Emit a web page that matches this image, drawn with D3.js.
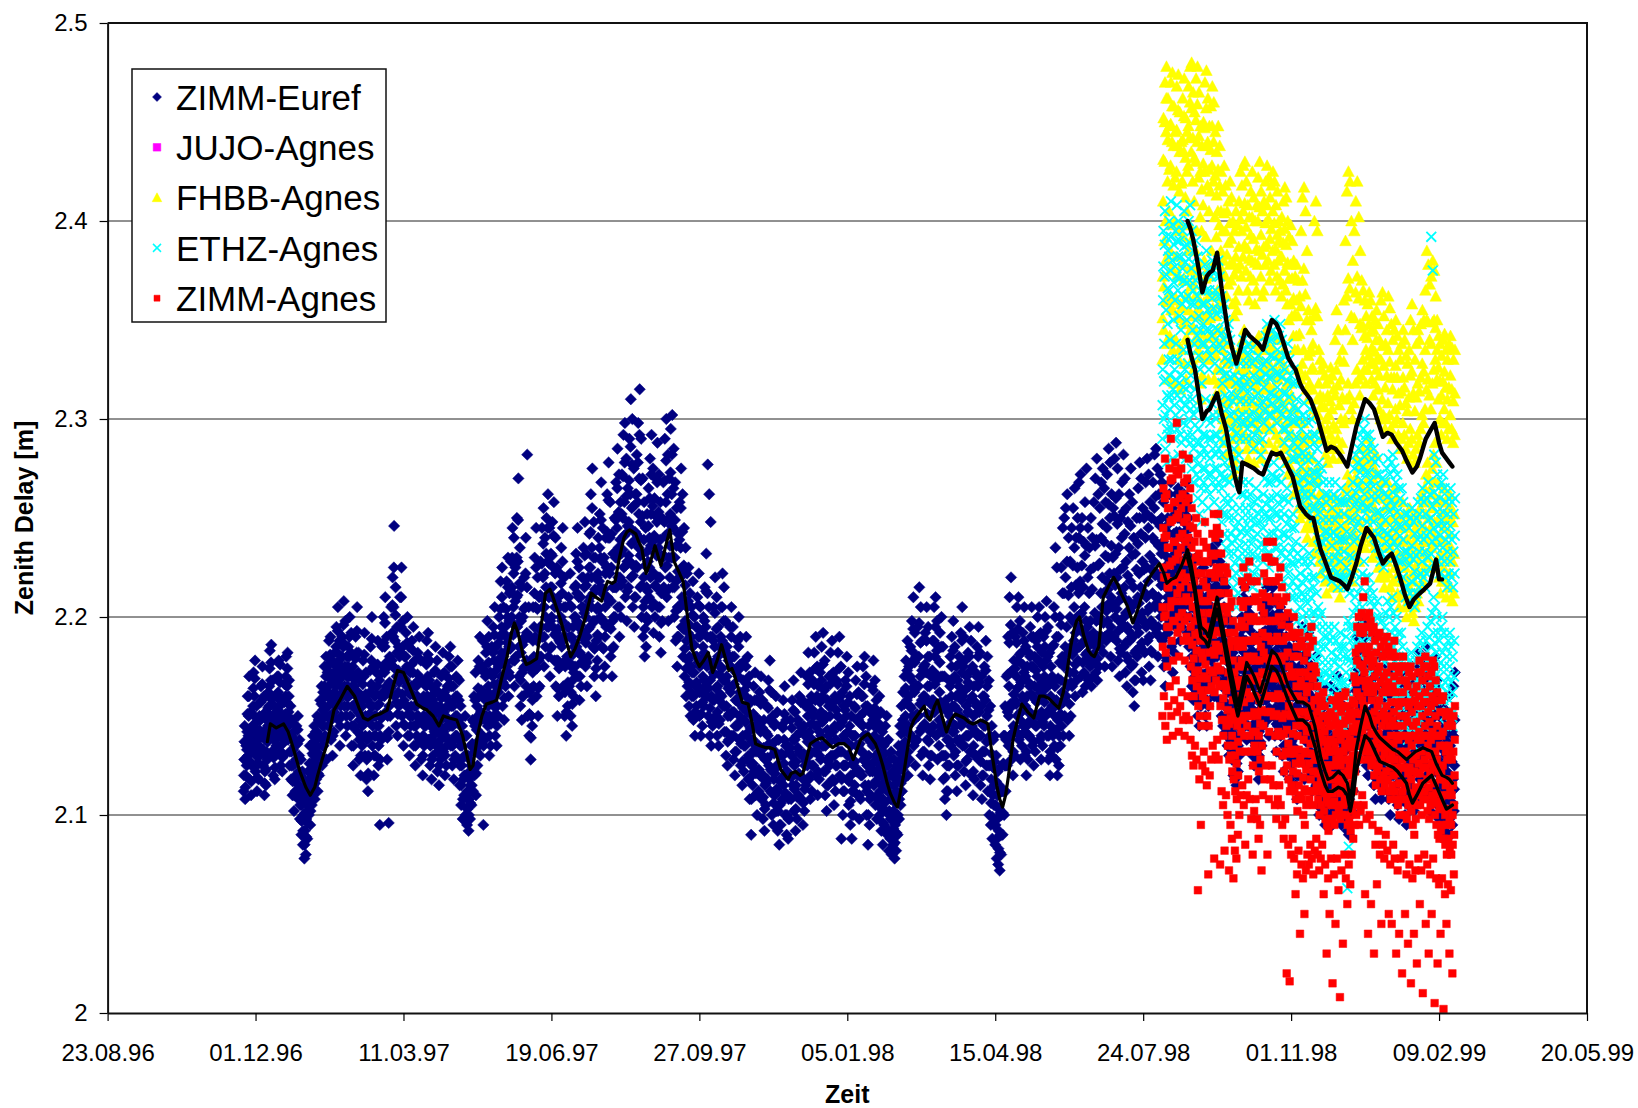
<!DOCTYPE html>
<html><head><meta charset="utf-8">
<script src="https://cdn.jsdelivr.net/npm/d3@7"></script>
<style>body{margin:0;background:#fff}text{font-family:"Liberation Sans",Arial,sans-serif}</style>
</head><body><svg id="chart" width="1638" height="1108"></svg>
<script>
// ---------- DATA ----------
const xTickLabels = ["23.08.96","01.12.96","11.03.97","19.06.97","27.09.97","05.01.98","15.04.98","24.07.98","01.11.98","09.02.99","20.05.99"];
const yTickValues = [2, 2.1, 2.2, 2.3, 2.4, 2.5];
const seriesNames = ["ZIMM-Euref","JUJO-Agnes","FHBB-Agnes","ETHZ-Agnes","ZIMM-Agnes"];
const seriesColors = ["#000080","#FF00FF","#FFFF00","#00FFFF","#FF0000"];
const dayZero = "23.08.96"; // day numbers count from this date
// Values: zenith delay in mm above 2 m (value = 2 + mm/1000)

// ZIMM-Euref, days 92..910: 3 samples per day (00,08,16 h) + 2 more (04,12 h)
const eurefStartDay = 92;
const eurefMM = [
112,128,145,108,120,135,125,142,160,130,150,170,118,136,152,110,125,140,135,155,172,140,160,178,122,138,155,112,126,142,
118,135,150,130,148,165,140,158,175,125,142,160,110,122,138,115,132,148,128,145,162,145,165,183,150,168,186,132,150,168,
120,138,155,118,130,146,135,152,170,145,162,178,140,158,176,125,140,156,122,136,150,130,148,166,142,160,180,150,165,182,
138,152,168,125,140,155,118,132,148,110,125,142,102,118,135,112,128,145,120,136,150,108,122,138,98,112,128,90,105,122,
85,100,118,78,92,110,80,98,115,88,105,122,100,118,135,95,110,126,105,122,140,115,130,145,108,125,142,118,135,150,
112,130,148,120,140,158,130,148,165,125,145,162,135,155,175,140,160,180,128,150,172,145,165,188,150,172,190,138,158,178,
130,150,168,142,162,182,155,175,195,160,182,205,148,168,188,135,155,175,150,170,190,162,185,208,155,175,198,140,160,180,
145,165,185,160,180,200,150,172,192,135,155,175,125,145,165,145,168,190,160,182,205,142,162,182,128,148,168,120,140,160,
135,155,178,148,170,192,130,150,172,118,138,158,112,130,148,140,162,185,155,178,200,135,155,175,120,140,160,130,150,172,
145,165,188,125,145,168,95,140,160,138,160,185,150,175,200,160,185,210,140,165,190,128,150,175,96,155,180,150,178,205,
165,192,220,175,205,246,160,188,215,145,170,195,140,162,185,155,180,210,170,195,225,150,172,198,135,158,180,145,168,192,
155,175,200,140,162,185,130,150,172,145,165,188,150,172,195,135,155,178,125,145,165,140,160,182,150,168,190,138,158,178,
128,148,168,120,140,160,135,155,178,145,165,188,150,170,192,138,158,178,125,145,165,118,138,158,130,150,172,142,162,185,
135,155,178,122,142,162,115,135,155,128,148,170,140,160,182,132,152,172,120,140,160,125,145,165,138,158,180,145,165,185,
135,155,175,125,145,165,118,138,158,130,150,170,140,160,178,128,148,168,115,135,155,105,125,145,98,118,140,110,130,150,
100,120,140,95,112,130,92,108,128,98,115,135,105,125,148,112,135,160,120,145,172,110,132,155,125,150,178,135,160,190,
130,152,175,140,162,188,95,150,172,138,158,182,150,172,198,145,165,190,130,150,172,135,158,185,148,170,195,155,178,205,
140,162,185,135,155,178,150,175,200,165,190,218,170,195,225,155,180,205,148,170,195,165,190,218,175,200,230,160,185,212,
170,198,228,185,215,245,178,205,240,165,192,225,180,210,250,195,228,270,170,200,235,155,182,215,148,172,200,160,188,220,
175,205,240,165,192,282,150,175,205,140,162,190,128,150,178,145,172,205,165,195,230,175,205,245,160,188,220,150,178,210,
165,195,228,180,210,245,190,220,255,175,205,240,185,215,250,195,228,262,180,210,245,170,198,232,185,215,248,195,225,258,
178,205,240,165,192,225,150,178,210,160,188,222,175,200,235,185,212,245,165,190,220,150,175,205,140,165,195,155,180,210,
165,190,222,150,175,205,145,168,195,160,185,215,175,200,232,185,212,245,170,195,225,158,182,210,165,190,220,180,205,235,
190,215,248,175,200,232,165,190,220,180,208,242,195,225,262,205,235,275,185,212,248,170,198,230,160,188,220,178,205,240,
190,218,252,200,230,268,185,212,245,170,198,230,175,205,240,195,225,262,210,240,278,195,222,258,180,208,242,170,198,232,
185,215,250,200,230,268,215,245,285,205,235,272,190,220,258,200,232,272,218,250,292,225,258,298,210,242,280,198,228,265,
215,248,290,228,262,310,220,255,300,205,238,275,195,225,262,210,242,282,225,258,298,235,270,315,215,248,290,200,232,270,
190,220,258,180,208,245,185,215,252,198,228,265,210,240,280,220,252,292,205,238,275,192,222,260,200,232,270,215,248,288,
205,235,272,190,220,258,182,212,250,198,230,268,215,248,290,225,258,300,210,242,282,198,230,270,220,252,295,230,262,302,
215,245,285,200,230,268,188,218,255,175,205,242,190,220,258,205,235,275,195,225,262,180,208,245,170,198,235,160,188,222,
165,192,225,155,180,212,150,175,205,160,185,218,148,172,200,140,165,195,155,180,210,165,190,222,150,175,205,140,162,192,
145,170,200,155,182,215,165,195,232,160,190,277,150,178,262,140,168,248,135,160,190,145,172,205,158,185,220,150,178,210,
140,165,195,135,158,185,148,175,205,160,188,222,155,182,215,142,168,198,130,155,185,125,150,178,138,165,195,150,175,205,
140,165,195,128,152,180,120,145,172,132,158,188,145,170,200,138,162,190,125,148,175,115,140,168,122,148,178,135,160,190,
128,152,180,118,142,170,108,130,158,90,125,150,115,138,165,122,145,172,110,132,158,100,122,148,112,135,162,120,142,170,
108,130,158,98,120,148,92,115,142,105,128,155,118,140,168,125,148,178,112,135,162,100,122,150,95,118,145,110,132,160,
102,125,152,92,112,138,85,105,130,95,118,145,108,130,158,115,138,165,100,122,148,90,110,135,88,108,132,98,120,148,
108,130,158,115,138,168,102,125,152,92,115,140,98,120,148,110,132,160,120,142,172,108,130,158,95,118,145,102,125,155,
115,140,170,125,150,182,118,142,172,108,132,160,112,138,168,125,150,182,132,158,190,120,145,175,110,135,165,118,142,172,
128,152,185,135,160,192,122,148,178,110,135,165,102,128,158,115,140,170,125,150,182,130,155,188,118,142,172,105,130,160,
112,138,168,125,150,182,132,158,190,120,145,175,88,132,162,100,125,155,112,138,168,125,150,180,118,142,172,105,130,160,
95,120,150,88,112,140,100,125,155,115,140,168,122,148,175,110,135,162,98,122,150,108,132,160,120,145,175,128,152,180,
115,140,170,100,125,155,85,115,145,95,122,152,110,138,165,122,148,178,115,140,168,105,130,158,98,122,150,108,132,160,
100,125,152,92,115,142,85,108,135,95,118,145,102,125,150,90,112,138,82,102,128,88,108,132,80,98,122,85,102,128,
78,95,118,82,100,125,90,110,135,98,118,145,105,128,155,112,135,162,118,142,170,125,150,178,132,158,188,120,145,175,
128,155,185,140,168,198,150,178,210,135,162,192,125,150,180,138,165,195,150,180,215,142,170,205,130,158,188,120,145,175,
132,160,192,145,172,205,138,165,195,125,150,180,118,142,170,130,158,188,145,172,205,152,180,210,140,168,198,128,155,185,
135,162,192,145,170,200,130,155,185,118,142,170,108,130,158,100,125,152,112,138,168,125,150,180,135,160,190,142,168,198,
130,155,185,120,145,175,112,138,168,125,150,180,138,162,192,145,172,205,135,160,190,122,148,178,115,140,170,128,152,182,
140,165,195,132,158,188,120,145,175,110,135,165,118,142,172,130,155,185,140,165,195,128,152,182,115,140,170,108,132,160,
120,145,175,132,158,188,125,150,180,112,138,168,100,125,155,95,118,145,88,110,138,95,115,140,85,105,130,78,98,122,
75,92,115,72,90,112,80,100,125,90,112,140,100,125,155,112,138,170,125,152,190,135,165,210,140,172,220,128,155,192,
120,145,178,130,158,190,142,170,205,150,178,210,138,165,198,128,152,182,135,160,192,145,172,205,130,155,185,120,145,175,
128,152,182,140,165,195,148,175,205,135,160,190,125,150,180,132,158,188,145,170,200,150,178,205,138,162,192,128,152,182,
135,160,190,145,170,200,150,178,208,140,165,195,128,152,182,120,145,175,130,155,185,140,168,205,135,165,235,128,158,225,
120,148,190,125,155,200,135,168,225,145,180,245,140,175,250,150,185,255,160,195,262,148,182,240,140,172,228,150,185,245,
165,198,255,172,205,265,160,192,240,168,200,250,178,212,268,185,218,272,170,202,250,162,192,238,172,205,258,165,198,275,
170,195,245,168,190,235,175,198,250,165,188,240,170,192,258,178,202,270,172,198,280,168,190,262,175,200,255,185,212,268,
190,220,275,182,212,265,175,205,258,188,218,272,198,230,285,192,222,278,180,210,262,175,205,255,190,222,280,200,232,288,
188,220,275,178,208,262,170,198,250,182,212,268,195,225,282,185,215,270,172,202,255,165,195,248,178,208,262,188,218,275,
175,205,258,162,190,240,155,182,232,168,198,250,180,210,265,192,222,278,185,215,270,172,202,255,168,198,250,182,212,268,
195,225,280,188,218,272,175,205,258,168,198,250,182,212,268,195,228,282,205,238,285,192,222,275,180,210,262,190,220,272,
200,232,268,188,218,258,175,205,245,165,195,235,178,210,250,192,222,262,198,228,268,185,215,255,172,202,242,182,212,252,
195,225,262,205,235,265,198,228,258,188,218,250,195,225,255,205,235,262,212,240,268,200,230,258,192,222,250,185,215,245,
175,205,238,165,195,228,158,188,220,170,198,230,162,190,222,150,180,212,145,172,205,155,182,215,165,192,225,158,185,218,
150,178,210,145,172,205,155,182,215,168,195,228,178,205,235,170,198,230,160,188,220,172,200,232,180,210,238,168,198,228,
158,188,220,150,180,212,145,172,205,155,182,215,142,170,200,135,162,192,130,155,185,138,165,195,128,152,182,120,145,175,
118,140,170,115,138,165,122,148,178,130,158,190,140,168,200,148,178,210,155,182,215,145,172,205,138,165,195,145,172,202,
152,178,208,140,168,198,130,158,188,125,150,180,135,160,190,128,152,182,118,142,172,125,150,180,135,162,192,145,172,202,
150,178,208,158,185,215,148,175,205,140,168,198,152,180,210,160,188,215,150,178,208,140,168,198,132,160,190,145,172,202,
150,178,205,140,165,195,130,155,185,122,148,178,135,160,190,142,168,198,130,155,185,118,145,175,125,150,180,135,160,190,
128,152,182,115,140,170,108,132,162,120,145,175,132,158,188,140,165,195,128,152,182,118,142,172,125,150,180,138,162,192,
130,155,185,120,145,175,112,138,168,118,142,172,125,150,180,115,140,170,105,130,160,100,122,150,108,130,158,112,135,165,
102,125,155,95,118,148,98,120,150,105,128,158,112,135,165,100,122,152,95,115,145,102,125,155,110,132,162,118,140,170,
108,130,160,100,122,152,95,118,148,102,125,155,110,132,162,98,120,150,92,112,142,90,108,138,95,112,140,102,125,155,
112,138,168,122,148,178,130,158,190,138,165,195,128,155,185,135,162,192,145,172,200,140,168,198,132,158,190,125,150,180,
120,145,175,128,152,182,135,160,190,125,150,180,115,140,170,108,132,162,118,142,172,125,150,180,115,140,170,108,132,162,
112,135,165,120,145,175,128,152,182,118,142,172,108,130,160,100,122,152,110,132,162,120,145,175,125,150,180,115,140,170,
105,128,158,98,120,150,108,130,160,118,142,172,112,135,165,100,122,152,95,118,148,105,128,158,115,138,168,120,145,175,
110,132,162,102,125,155,112,135,165,122,145,175,128,152,182,118,140,170,108,130,160,115,138,168,125,148,178,130,155,185,
120,142,172,110,132,162,102,125,155,112,135,165,122,145,175,128,150,180,115,138,168,105,128,158,98,120,150,102,125,155,
95,118,148,88,110,140,92,115,145,100,122,152,108,130,160,98,120,150,90,112,142,95,118,165,102,125,172
];
const eurefExtraMM = [
120,137,114,128,133,151,140,160,127,144,117,133,145,164,150,169,130,147,119,134,
126,143,139,157,149,166,133,151,116,130,123,140,137,154,155,174,159,177,141,159,
129,147,124,138,143,161,153,170,149,167,132,148,129,143,139,157,151,170,157,174,
145,160,132,148,125,140,117,133,110,126,120,137,128,143,115,130,105,120,97,113,
92,109,85,101,89,106,96,113,109,126,102,118,113,131,122,137,116,133,126,142,
121,139,130,149,139,156,135,153,145,165,150,170,139,161,155,176,161,181,148,168,
140,159,152,172,165,185,171,193,158,178,145,165,160,180,173,196,165,186,150,170,
155,175,170,190,161,182,145,165,135,155,156,179,171,193,152,172,138,158,130,150,
145,166,159,181,140,161,128,148,121,139,151,173,166,189,145,165,130,150,140,161,
155,176,135,156,128,150,149,172,162,187,172,197,152,177,139,162,142,167,164,191,
178,206,190,225,174,201,157,182,151,173,167,195,182,210,161,185,146,169,156,180,
165,187,151,173,140,161,155,176,161,183,145,166,135,155,150,171,159,179,148,168,
138,158,130,150,145,166,155,176,160,181,148,168,135,155,128,148,140,161,152,173,
145,166,132,152,125,145,138,159,150,171,142,162,130,150,135,155,148,169,155,175,
145,165,135,155,128,148,140,160,150,169,138,158,125,145,115,135,108,129,120,140,
110,130,103,121,100,118,106,125,115,136,123,147,132,158,121,143,137,164,147,175,
141,163,151,175,135,161,148,170,161,185,155,177,140,161,146,171,159,182,166,191,
151,173,145,166,162,187,177,204,182,210,167,192,159,182,177,204,187,215,172,198,
184,213,200,230,191,222,178,208,195,230,211,249,185,217,168,198,160,186,174,204,
190,222,178,215,162,190,151,176,139,164,158,188,180,212,190,225,174,204,164,194,
180,211,195,227,205,237,190,222,200,232,211,245,195,227,184,215,200,231,210,241,
191,222,178,208,164,194,174,205,187,217,198,228,177,205,162,190,152,180,167,195,
177,206,162,190,156,181,172,200,187,216,198,228,182,210,170,196,177,205,192,220,
202,231,187,216,177,205,194,225,210,243,220,255,198,230,184,214,174,204,191,222,
204,235,215,249,198,228,184,214,190,222,210,243,225,259,208,240,194,225,184,215,
200,232,215,249,230,265,220,253,205,239,216,252,234,271,241,278,226,261,213,246,
231,269,245,286,237,277,221,256,210,243,226,262,241,278,252,292,231,269,216,251,
205,239,194,226,200,233,213,246,225,260,236,272,221,256,207,241,216,251,231,268,
220,253,205,239,197,231,214,249,231,269,241,279,226,262,214,250,236,273,246,282,
230,265,215,249,203,236,190,223,205,239,220,255,210,243,194,226,184,216,174,205,
178,208,167,196,162,190,172,201,160,186,152,180,167,195,177,206,162,190,151,177,
157,185,168,198,180,213,175,212,164,205,154,190,147,175,158,188,171,202,164,194,
152,180,146,171,161,190,174,205,168,198,155,183,142,170,137,164,151,180,162,190,
152,180,140,166,132,158,145,173,157,185,150,176,136,161,127,154,135,163,147,175,
140,166,130,156,119,144,108,137,126,151,133,158,121,145,111,135,123,148,131,156,
119,144,109,134,103,128,116,141,129,154,136,163,123,148,111,136,106,131,121,146,
113,138,102,125,95,117,106,131,119,144,126,151,111,135,100,122,98,120,109,134,
119,144,126,153,113,138,103,127,109,134,121,146,131,157,119,144,106,131,113,140,
127,155,137,166,130,157,120,146,125,153,137,166,145,174,132,160,122,150,130,157,
140,168,147,176,135,163,122,150,115,143,127,155,137,166,142,171,130,157,117,145,
125,153,137,166,145,174,132,160,118,147,112,140,125,153,137,165,130,157,117,145,
107,135,100,126,112,140,127,154,135,161,122,148,110,136,120,146,132,160,140,166,
127,155,112,140,100,130,108,137,124,151,135,163,127,154,117,144,110,136,120,146,
112,138,103,128,96,121,106,131,113,137,101,125,92,115,98,120,89,110,93,115,
86,106,91,112,100,122,108,131,116,141,123,148,130,156,137,164,145,173,132,160,
141,170,154,183,164,194,148,177,137,165,151,180,165,197,156,187,144,173,132,160,
146,176,158,188,151,180,137,165,130,156,144,173,158,188,166,195,154,183,141,170,
148,177,157,185,142,170,130,156,119,144,112,138,125,153,137,165,147,175,155,183,
142,170,132,160,125,153,137,165,150,177,158,188,147,175,135,163,127,155,140,167,
152,180,145,173,132,160,122,150,130,157,142,170,152,180,140,167,127,155,120,146,
132,160,145,173,137,165,125,153,112,140,106,131,99,124,105,127,95,117,88,110,
83,103,81,101,90,112,101,126,112,140,125,154,138,171,150,187,156,196,141,173,
132,161,144,174,156,187,164,194,151,181,140,167,147,176,158,188,142,170,132,160,
140,167,152,180,161,190,147,175,137,165,145,173,157,185,164,191,150,177,140,167,
147,175,157,185,164,193,152,180,140,167,132,160,142,170,154,186,150,200,143,190,
134,169,140,177,151,196,162,212,157,212,167,220,177,228,165,211,156,200,167,215,
181,226,188,235,176,216,184,225,195,240,201,245,186,226,177,215,188,231,181,236,
182,220,179,212,186,224,176,214,181,225,190,236,185,239,179,226,187,227,198,240,
205,247,197,238,190,231,203,245,214,257,207,250,195,236,190,230,206,251,216,260,
204,247,193,235,184,224,197,240,210,253,200,242,187,228,180,221,193,235,203,246,
190,231,176,215,168,207,183,224,195,237,207,250,200,242,187,228,183,224,197,240,
210,252,203,245,190,231,183,224,197,240,211,255,221,261,207,248,195,236,205,246,
216,250,203,238,190,225,180,215,194,230,207,242,213,248,200,235,187,222,197,232,
210,243,220,250,213,243,203,234,210,240,220,248,226,254,215,244,207,236,200,230,
190,221,180,211,173,204,184,214,176,206,165,196,158,188,168,198,178,208,171,201,
164,194,158,188,168,198,181,211,191,220,184,214,174,204,186,216,195,224,183,213,
173,204,165,196,158,188,168,198,156,185,148,177,142,170,151,180,140,167,132,160,
129,155,126,151,135,163,144,174,154,184,163,194,168,198,158,188,151,180,158,187,
165,193,154,183,144,173,137,165,147,175,140,167,130,157,137,165,148,177,158,187,
164,193,171,200,161,190,154,183,166,195,174,201,164,193,154,183,146,175,158,187,
164,191,152,180,142,170,135,163,147,175,155,183,142,170,131,160,137,165,147,175,
140,167,127,155,120,147,132,160,145,173,152,180,140,167,130,157,137,165,150,177,
142,170,132,160,125,153,130,157,137,165,127,155,117,145,111,136,119,144,123,150,
113,140,106,133,109,135,116,143,123,150,111,137,105,130,113,140,121,147,129,155,
119,145,111,137,106,133,113,140,121,147,109,135,102,127,99,123,103,126,113,140,
125,153,135,163,144,174,151,180,141,170,148,177,158,186,154,183,145,174,137,165,
132,160,140,167,147,175,137,165,127,155,120,147,130,157,137,165,127,155,120,147,
123,150,132,160,140,167,130,157,119,145,111,137,121,147,132,160,137,165,127,155,
116,143,109,135,119,145,130,157,123,150,111,137,106,133,116,143,126,153,132,160,
121,147,113,140,123,150,133,160,140,167,129,155,119,145,126,153,136,163,142,170,
131,157,121,147,113,140,123,150,133,160,139,165,126,153,116,143,109,135,113,140,
106,133,99,125,103,130,111,137,119,145,109,135,101,127,106,140,113,148
];

// Agnes series, days 713..910: 4 samples per day (00,06,12,18 h) + 2 more (03,15 h)
const agnesStartDay = 713;
const jujoMM = [];
const fhbbMM = [
330,372,410,452,345,390,430,470,360,400,445,478,338,380,420,462,320,362,405,448,
342,385,428,470,355,398,440,475,335,375,418,458,318,360,400,445,340,382,425,468,
352,395,438,474,330,372,415,455,315,358,398,440,335,378,420,462,348,392,435,472,
328,370,412,452,320,362,405,445,340,385,428,468,355,398,442,478,345,390,435,480,
330,375,420,465,325,368,410,455,340,385,430,472,352,395,440,478,335,378,422,465,
318,360,402,448,310,352,395,438,322,365,408,450,338,380,425,470,350,392,438,476,
332,375,418,462,320,362,405,448,330,372,415,458,342,385,428,468,335,378,420,460,
320,362,402,445,312,352,392,435,325,365,405,448,318,358,398,438,305,345,385,425,
295,335,375,415,300,340,380,428,290,330,372,418,282,322,362,405,288,328,368,410,
298,338,378,420,290,330,370,412,278,318,358,400,272,312,352,395,280,320,360,405,
275,315,355,398,285,325,365,410,295,335,378,425,290,330,372,418,298,340,382,428,
305,345,388,430,292,332,375,420,285,325,365,408,280,320,360,402,290,330,372,415,
298,338,380,425,288,328,370,412,278,318,358,400,285,325,365,408,295,335,378,422,
302,342,385,430,290,330,372,415,280,320,362,405,285,325,365,410,295,335,378,420,
305,345,388,428,298,338,380,422,288,328,370,412,295,335,375,418,302,342,385,425,
295,335,378,420,285,325,365,408,292,332,372,415,300,340,380,400,290,330,370,395,
282,322,362,402,288,328,368,410,295,335,375,417,285,325,365,412,278,318,358,400,
272,310,350,392,280,318,358,398,275,312,352,390,268,305,342,380,262,298,335,372,
270,305,342,378,265,300,335,370,255,290,325,362,250,285,320,395,258,292,328,412,
262,298,335,417,252,288,322,405,245,280,315,385,240,275,310,355,248,282,318,350,
255,290,325,345,245,280,315,338,238,272,305,400,232,268,302,410,240,275,310,395,
235,270,302,335,228,262,295,330,222,255,290,325,230,262,295,328,225,258,290,322,
218,250,282,318,212,245,278,312,220,252,285,320,228,260,292,326,222,255,288,322,
215,248,280,315,220,252,285,340,228,260,295,355,222,255,290,345,215,250,285,330,
210,245,280,320,218,252,288,335,225,260,298,360,220,258,300,390,228,265,310,415,
235,272,318,425,230,268,312,420,222,260,305,400,218,255,300,380,225,262,308,395,
232,270,318,410,240,280,325,420,235,275,320,402,228,268,312,385,238,278,322,370,
245,285,330,365,240,280,325,360,235,275,318,352,242,282,325,358,250,290,332,364,
245,285,328,360,238,278,320,352,230,270,312,345,235,275,318,350,242,282,325,355,
232,272,315,348,225,265,305,340,220,260,300,360,228,268,310,364,222,262,302,352,
215,255,295,338,220,260,300,345,228,268,308,362,222,262,302,356,215,255,295,348,
210,250,290,340,218,258,298,345,225,265,305,350,220,260,300,342,212,252,292,335,
205,245,285,330,210,250,290,338,218,258,298,345,212,252,292,340,205,245,285,332,
200,240,280,328,208,248,288,335,215,255,295,350,210,250,290,358,202,242,282,345,
198,238,278,330,205,245,285,338,212,252,292,345,208,248,288,340,215,255,295,348,
222,262,302,355,218,258,298,350,225,265,305,365,232,272,315,385,238,278,320,378,
230,270,312,368,225,265,305,372,235,275,318,380,242,282,325,375,248,288,330,362,
238,278,320,350,228,268,310,342,220,260,300,338,212,252,292,332,218,258,298,340,
225,265,305,343,218,258,298,335,210,250,290,330,215,255,295,338,222,262,302,342,
215,255,295,336,208,248,288,330,212,252,292,335
];
const fhbbExtraMM = [
351,431,367,450,380,462,359,441,341,426,363,449,376,458,355,438,339,422,361,446,
373,456,351,435,336,419,356,441,370,453,349,432,341,425,362,448,376,460,367,457,
352,442,346,432,362,451,373,459,356,443,339,425,331,416,343,429,359,447,371,457,
353,440,341,426,351,436,363,448,356,440,341,423,332,413,345,426,338,418,325,405,
315,395,320,404,310,395,302,383,308,389,318,399,310,391,298,379,292,373,300,382,
295,376,305,387,315,401,310,395,319,405,325,409,312,397,305,386,300,381,310,393,
318,402,308,391,298,379,305,386,315,400,322,407,310,393,300,383,305,387,315,399,
325,408,318,401,308,391,315,396,322,405,315,399,305,386,312,393,320,390,310,382,
302,382,308,389,315,396,305,388,298,379,291,371,299,378,293,371,286,361,280,353,
287,360,282,352,272,343,267,357,275,370,280,376,270,363,262,350,257,332,265,334,
272,335,262,326,255,352,250,356,257,352,252,318,245,312,238,307,246,311,241,306,
234,300,228,295,236,302,244,309,238,305,231,297,236,312,244,325,238,317,232,307,
227,300,235,311,242,329,239,345,246,362,253,371,249,366,241,352,236,340,243,351,
251,364,260,372,255,361,248,348,258,346,265,347,260,342,255,335,262,341,270,348,
265,344,258,336,250,328,255,334,262,340,252,331,245,322,240,330,248,337,242,327,
235,316,240,322,248,335,242,329,235,321,230,315,238,321,245,327,240,321,232,313,
225,307,230,314,238,321,232,316,225,308,220,304,228,311,235,322,230,324,222,313,
218,304,225,311,232,318,228,314,235,321,242,328,238,324,245,335,252,350,258,349,
250,340,245,338,255,349,262,350,268,346,258,335,248,326,240,319,232,312,238,319,
245,324,238,316,230,310,235,316,242,322,235,315,228,309,232,313
];
const ethzMM = [
290,325,360,395,300,338,372,405,285,320,355,392,278,312,348,385,292,330,365,400,
305,340,375,410,295,330,362,398,280,315,350,388,290,325,360,395,302,338,372,408,
295,330,365,400,282,318,352,390,275,310,345,382,288,322,358,395,298,335,370,405,
290,325,360,398,280,315,350,388,292,328,362,400,300,335,370,408,288,322,358,395,
275,310,345,385,268,302,338,378,280,315,350,390,272,305,342,382,260,295,332,372,
252,288,325,365,248,282,318,358,258,292,328,368,268,302,338,378,275,310,345,385,
265,300,335,375,255,290,325,365,262,298,332,372,272,308,342,380,268,302,338,375,
258,292,328,365,265,300,335,372,275,310,345,380,268,302,338,372,255,290,325,362,
248,282,318,355,252,288,322,358,242,278,312,350,235,270,305,342,240,275,310,348,
232,268,302,340,225,260,295,332,220,255,290,328,215,250,285,322,210,245,280,318,
205,240,275,312,212,248,282,320,218,255,290,328,225,262,298,335,232,268,302,340,
228,262,298,335,220,255,290,328,225,260,295,332,232,268,302,338,228,262,298,335,
220,255,290,328,215,250,285,322,222,258,292,330,230,265,300,338,225,260,295,332,
218,252,288,325,212,248,282,320,220,255,290,328,228,262,298,335,235,270,305,342,
240,275,310,348,232,268,302,340,225,260,295,332,232,268,302,340,238,272,308,345,
242,278,312,350,235,270,305,342,228,262,298,335,235,270,305,342,240,275,310,348,
232,268,302,340,225,260,295,332,218,252,288,325,225,260,295,332,230,265,300,338,
222,258,292,330,215,250,285,322,210,245,280,318,218,252,288,325,210,245,280,318,
202,238,272,310,198,232,268,305,192,228,262,300,188,222,258,295,195,230,265,302,
200,235,270,308,192,228,262,300,185,220,255,292,190,225,260,298,196,232,268,305,
192,228,262,300,185,220,255,292,180,215,250,288,185,220,255,292,178,212,248,285,
170,205,240,278,165,200,235,272,168,202,238,275,160,195,230,268,155,190,225,262,
150,185,220,258,155,190,225,262,160,195,230,268,152,188,222,260,148,182,218,255,
155,190,225,262,160,195,230,268,152,188,222,260,145,180,215,252,150,185,220,258,
158,192,228,265,150,185,220,258,145,180,215,252,150,185,220,258,155,190,225,262,
63,145,180,215,84,178,212,250,152,188,222,260,160,195,230,268,168,202,238,275,
175,210,245,282,170,205,240,278,178,212,248,285,185,220,255,292,180,215,250,288,
188,222,258,295,192,228,262,300,185,220,255,292,178,212,248,285,185,220,255,292,
180,215,250,288,172,208,242,280,178,212,248,285,170,205,240,278,165,200,235,272,
172,208,242,280,165,200,235,272,158,192,228,265,162,198,232,270,155,190,225,262,
160,195,230,268,168,202,238,275,172,208,242,280,165,200,235,272,170,205,240,278,
175,210,245,282,168,202,238,275,160,195,230,268,165,200,235,272,158,192,228,265,
152,188,222,260,158,192,228,265,150,185,220,258,145,180,215,252,140,175,210,248,
145,180,215,252,138,172,208,245,142,178,212,250,148,182,218,255,140,175,210,248,
135,170,205,242,142,178,212,250,150,185,220,258,145,180,215,252,152,188,222,260,
158,192,228,265,150,185,220,258,145,180,215,252,152,188,222,260,160,195,230,268,
155,190,225,262,162,198,232,392,168,202,238,375,175,210,245,282,170,205,240,278,
165,200,235,272,158,192,228,265,152,188,222,260,160,195,230,268,165,200,235,272,
158,192,228,265,150,185,220,258,145,180,215,252,152,188,222,260,158,192,228,265,
150,185,220,258,145,180,215,252,152,188,222,260
];
const ethzExtraMM = [
307,377,319,388,302,373,295,366,311,382,322,392,312,380,297,369,307,377,320,390,
312,382,300,371,292,363,305,376,316,387,307,379,297,369,310,381,317,389,305,376,
292,365,285,358,297,370,288,362,277,352,270,345,265,338,275,348,285,358,292,365,
282,355,272,345,280,352,290,361,285,356,275,346,282,353,292,362,285,355,272,343,
265,336,270,340,260,331,252,323,257,329,250,321,242,313,237,309,232,303,227,299,
222,293,230,301,236,309,243,316,250,321,245,316,237,309,242,313,250,320,245,316,
237,309,232,303,240,311,247,319,242,313,235,306,230,301,237,309,245,316,252,323,
257,329,250,321,242,313,250,321,255,326,260,331,252,323,245,316,252,323,257,329,
250,321,242,313,235,306,242,313,247,319,240,311,232,303,227,299,235,306,227,299,
220,291,215,286,210,281,205,276,212,283,217,289,210,281,202,273,207,279,214,286,
210,281,202,273,197,269,202,273,195,266,187,259,182,253,185,256,177,249,172,243,
167,239,172,243,177,249,170,241,165,236,172,243,177,249,170,241,162,233,167,239,
175,246,167,239,162,233,167,239,172,243,162,198,195,231,170,241,177,249,185,256,
192,263,187,259,195,266,202,273,197,269,205,276,210,281,202,273,195,266,202,273,
197,269,190,261,195,266,187,259,182,253,190,261,182,253,175,246,180,251,172,243,
177,249,185,256,190,261,182,253,187,259,192,263,185,256,177,249,182,253,175,246,
170,241,175,246,167,239,162,233,157,229,162,233,155,226,160,231,165,236,157,229,
152,223,160,231,167,239,162,233,170,241,175,246,167,239,162,233,170,241,177,249,
172,243,180,250,185,256,192,263,187,259,182,253,175,246,170,241,177,249,182,253,
175,246,167,239,162,233,170,241,175,246,167,239,162,233,170,241
];
const zimmAgnesMM = [
150,185,225,265,160,200,240,280,145,182,220,262,138,175,215,255,155,195,235,275,
165,205,248,290,150,188,228,270,140,178,218,258,158,198,238,278,168,208,250,298,
152,192,232,272,142,180,220,260,155,195,235,275,162,202,242,282,148,188,228,268,
140,178,218,258,150,190,230,270,160,200,240,280,148,188,228,265,138,175,215,255,
130,168,205,245,125,160,198,238,135,172,210,250,128,165,202,242,62,155,192,232,
118,150,188,228,95,145,182,222,125,160,198,238,132,170,208,248,122,158,195,235,
115,150,188,228,70,145,182,222,120,155,192,232,128,165,202,242,135,172,210,252,
78,162,200,240,130,168,205,245,138,175,212,252,128,165,202,242,75,155,192,232,
112,148,185,225,105,140,178,218,82,148,185,225,110,145,182,222,100,135,172,212,
72,128,165,205,95,130,168,208,88,122,158,198,68,118,152,192,82,112,148,188,
78,108,145,185,90,120,155,195,100,132,168,208,110,142,178,218,115,148,185,225,
105,140,175,215,85,132,168,208,110,145,180,220,118,150,188,228,108,140,178,218,
98,132,168,208,80,125,160,200,102,135,170,210,108,142,178,218,98,132,168,208,
88,122,158,198,95,128,165,205,72,135,172,212,110,145,182,222,118,152,190,230,
125,160,198,238,80,152,190,230,108,142,178,218,118,152,188,228,125,160,198,238,
115,150,188,228,105,140,178,218,98,132,170,210,108,142,180,220,115,150,188,225,
105,140,178,215,95,130,168,208,88,122,160,200,98,132,170,210,20,125,162,202,
85,118,155,195,16,112,150,190,80,115,152,192,88,122,160,200,78,112,150,190,
60,108,145,185,70,102,140,180,82,115,152,192,40,110,148,188,75,108,145,185,
68,100,138,178,50,95,132,172,72,105,142,182,80,112,150,190,75,108,145,185,
85,118,155,195,78,112,150,188,70,105,140,175,82,112,145,172,88,115,140,165,
80,108,135,160,72,100,128,155,78,105,132,158,85,112,138,162,60,102,130,155,
75,98,125,150,30,95,122,148,68,92,120,145,50,98,125,152,78,105,132,158,
15,98,125,150,70,95,120,148,45,100,128,155,78,105,132,160,62,102,130,158,
8,98,125,152,72,100,128,155,35,105,132,160,80,108,135,162,68,100,128,155,
55,95,122,150,75,98,125,152,65,92,120,148,80,102,130,158,88,112,142,170,
95,122,152,182,100,130,162,195,105,135,168,200,95,128,160,192,102,135,168,202,
110,142,175,210,105,138,172,218,60,132,165,200,98,128,162,195,40,135,168,202,
100,132,165,198,55,125,158,192,95,128,162,195,30,120,152,188,85,115,148,182,
65,122,155,190,92,125,158,192,80,118,150,185,45,112,145,180,85,120,152,188,
78,115,148,182,90,122,155,190,82,118,150,185,50,112,145,180,75,108,140,175,
45,115,148,182,85,120,152,188,78,112,145,180,30,108,140,175,72,105,138,172,
40,100,132,168,78,108,140,175,20,112,145,180,80,108,140,175,50,100,132,168,
70,98,130,165,35,105,138,172,75,108,140,175,15,102,135,170,68,95,128,162,
40,90,122,158,72,98,130,165,25,105,138,172,78,110,142,178,55,105,138,172,
72,100,132,168,10,108,140,175,80,112,145,180,45,108,140,175,75,102,135,170,
30,98,130,165,70,105,138,172,50,110,142,178,78,108,140,175,5,100,132,168,
68,95,128,162,25,90,122,158,65,88,118,152,40,92,122,158,68,95,125,160,
2,88,118,152,60,85,115,150,45,80,110,145,65,88,118,152,30,82,112,148,
62,80,110,145,20,85,115,150,70,90,120,155
];
const zimmAgnesExtraMM = [
205,245,220,260,201,241,195,235,215,255,226,269,208,249,198,238,218,258,229,274,
212,252,200,240,215,255,222,262,208,248,198,238,210,250,220,260,208,246,195,235,
186,225,179,218,191,230,183,222,173,212,169,208,163,202,179,218,189,228,176,215,
169,208,163,202,173,212,183,222,191,231,181,220,186,225,193,232,183,222,173,212,
166,205,159,198,166,205,163,202,153,192,146,185,149,188,140,178,135,172,130,168,
126,165,137,175,150,188,160,198,166,205,157,195,150,188,162,200,169,208,159,198,
150,188,142,180,152,190,160,198,150,188,140,178,146,185,153,192,163,202,171,210,
179,218,171,210,160,198,170,208,179,218,169,208,159,198,151,190,161,200,169,206,
159,196,149,188,141,180,151,190,143,182,136,175,131,170,133,172,141,180,131,170,
126,165,121,160,133,172,129,168,126,165,119,158,113,152,123,162,131,170,126,165,
136,175,131,169,122,158,128,158,128,152,121,148,114,141,118,145,125,150,116,142,
111,137,108,135,106,132,111,138,118,145,111,137,107,134,114,141,118,146,116,144,
111,138,114,141,118,146,121,148,114,141,108,136,111,138,106,134,116,144,127,156,
137,167,146,178,151,184,144,176,151,185,158,192,155,195,148,182,145,178,151,185,
148,181,141,175,145,178,136,170,131,165,138,172,141,175,134,167,128,162,136,170,
131,165,138,172,134,167,128,162,124,157,131,165,136,170,128,162,124,157,121,155,
116,150,124,157,128,162,124,157,116,150,114,147,121,155,124,157,118,152,111,145,
106,140,114,147,121,155,126,160,121,155,116,150,124,157,128,162,124,157,118,152,
114,147,121,155,126,160,124,157,116,150,111,145,106,140,103,135,107,140,110,142,
103,135,100,132,95,128,103,135,97,130,95,128,100,132,105,138
];

// Moving-average trend lines: [day, mm]
const eurefTrend = [[108,137],[110,146],[114,144],[119,146],[122,142],[125,135],[130,122],[134,114],[137,110],[140,114],[142,120],[145,128],[148,135],[150,142],[153,153],[157,158],[162,165],[165,162],[167,160],[170,154],[173,149],[176,148],[180,150],[184,151],[189,153],[193,165],[196,173],[200,172],[204,165],[209,156],[213,154],[216,153],[220,150],[224,145],[227,150],[231,149],[236,148],[240,140],[243,130],[245,123],[247,125],[250,140],[253,150],[256,156],[260,157],[263,158],[266,168],[270,180],[273,192],[275,197],[277,193],[279,187],[281,180],[283,176],[286,177],[290,179],[293,195],[296,212],[299,214],[302,208],[306,199],[310,188],[313,180],[316,184],[319,190],[323,200],[327,212],[330,210],[334,208],[336,214],[338,218],[341,217],[343,218],[346,230],[349,240],[351,243],[353,244],[355,243],[357,242],[359,238],[361,235],[364,222],[367,228],[370,236],[372,231],[374,226],[377,235],[380,244],[383,228],[386,223],[389,218],[392,200],[395,184],[398,178],[400,175],[403,178],[406,182],[409,172],[412,178],[415,186],[418,178],[420,173],[422,174],[424,170],[427,162],[429,157],[433,156],[436,145],[438,136],[441,135],[445,134],[448,134],[451,133],[453,128],[455,123],[458,120],[460,118],[462,121],[465,122],[468,120],[470,121],[473,130],[475,136],[479,138],[483,139],[487,136],[490,134],[494,136],[498,136],[501,134],[504,128],[507,134],[509,138],[512,140],[514,141],[517,138],[519,136],[522,130],[524,125],[527,116],[529,111],[532,106],[534,104],[536,112],[538,120],[541,135],[543,144],[545,148],[547,150],[550,153],[552,155],[554,150],[556,148],[559,155],[561,158],[564,150],[567,142],[570,148],[573,151],[576,150],[579,149],[582,147],[585,146],[588,147],[590,148],[593,147],[595,146],[598,130],[601,115],[603,108],[605,104],[607,110],[609,120],[612,138],[615,148],[618,156],[622,152],[626,149],[630,160],[633,160],[636,159],[640,156],[643,154],[646,162],[648,170],[651,185],[653,193],[655,198],[657,200],[660,190],[663,183],[665,181],[667,180],[670,185],[673,210],[677,216],[680,220],[683,216],[685,212],[689,206],[693,197],[696,203],[698,208],[702,217],[706,222],[711,227],[714,222],[716,217],[719,219],[722,220],[726,226],[730,234],[732,228],[735,215],[737,205],[739,195],[742,193],[744,190],[747,200],[750,210],[752,202],[755,190],[758,178],[761,167],[764,155],[767,166],[770,177],[773,173],[775,170],[779,162],[783,172],[787,183],[790,181],[792,178],[795,172],[798,165],[801,161],[804,157],[808,157],[812,155],[816,145],[820,129],[823,122],[825,118],[828,119],[832,122],[835,120],[838,116],[840,108],[842,118],[844,133],[847,145],[850,155],[853,150],[855,145],[858,141],[860,139],[863,137],[866,135],[869,133],[872,132],[875,130],[878,128],[881,130],[884,132],[887,133],[889,134],[892,133],[895,132],[898,126],[900,123],[902,120],[905,119],[907,118],[909,116]];
const fhbbTrend = [[730,400],[732,396],[734,390],[737,378],[740,364],[743,372],[745,374],[747,375],[750,384],[753,366],[757,346],[760,336],[763,328],[766,336],[769,345],[772,342],[775,340],[778,338],[781,335],[784,343],[787,350],[790,348],[792,345],[795,338],[798,331],[801,327],[803,325],[806,318],[808,315],[811,312],[813,310],[816,304],[818,300],[821,292],[824,284],[827,286],[830,285],[834,281],[838,276],[841,286],[844,296],[847,303],[850,310],[853,308],[856,305],[859,298],[862,291],[865,293],[868,292],[871,288],[875,284],[878,279],[882,273],[885,276],[887,280],[889,285],[891,290],[894,294],[897,298],[900,288],[902,283],[905,280],[907,278],[909,276]];
const ethzTrend = [[730,340],[732,333],[735,325],[738,310],[740,300],[743,304],[745,305],[748,310],[750,313],[753,303],[756,295],[759,282],[762,271],[764,265],[765,263],[767,278],[770,277],[775,275],[778,273],[781,272],[784,278],[787,283],[790,282],[793,283],[797,277],[801,271],[804,262],[806,256],[810,252],[813,250],[815,250],[818,240],[820,234],[824,226],[827,220],[830,219],[833,218],[836,216],[838,214],[841,220],[844,227],[847,236],[851,245],[853,243],[856,240],[859,233],[862,227],[865,230],[868,232],[871,226],[874,219],[877,211],[880,205],[883,209],[887,212],[890,214],[894,217],[896,223],[898,229],[900,219],[902,219]];
const zimmAgnesTrend = [[730,230],[732,224],[735,212],[737,200],[739,190],[742,188],[744,185],[747,195],[750,204],[752,197],[755,185],[758,172],[761,160],[764,150],[767,160],[770,170],[773,166],[775,162],[779,155],[783,165],[787,175],[790,173],[792,170],[795,164],[798,158],[801,153],[804,148],[808,148],[812,145],[816,135],[820,122],[823,115],[825,112],[828,112],[832,114],[835,113],[838,110],[840,102],[842,110],[844,122],[847,132],[850,140],[853,138],[855,135],[858,130],[860,127],[863,126],[866,125],[869,124],[872,122],[875,119],[878,116],[880,110],[882,106],[885,110],[889,116],[892,118],[895,120],[898,115],[902,108],[905,103],[907,104],[909,105]];

// ---------- CHART ----------
const svg = d3.select("#chart");
svg.append("rect").attr("width",1638).attr("height",1108).attr("fill","#fff");
const plot = {left:107.6, right:1587, top:23, bottom:1013};
const parseD = d3.timeParse("%d.%m.%y"), fmtD = d3.timeFormat("%d.%m.%y");
const tickDates = xTickLabels.map(parseD);
const base = parseD(dayZero);
const x = d3.scaleTime().domain([tickDates[0], tickDates[tickDates.length-1]]).range([plot.left, plot.right]);
const y = d3.scaleLinear().domain([2, 2.5]).range([plot.bottom, plot.top]);
const mm = v => 2 + v/1000;
const dayDate = (d, hour) => d3.timeHour.offset(d3.timeDay.offset(base, d), hour || 0);

// samples -> {date, value}; hours = sample hours within each day
function expand(arr, startDay, hours) {
  const n = hours.length;
  return arr.map((v, i) => ({date: dayDate(startDay + Math.floor(i/n), hours[i%n]), value: mm(v)}));
}

// gridlines
svg.append("g").selectAll("line").data(yTickValues.slice(1, -1)).join("line")
  .attr("x1", plot.left).attr("x2", plot.right)
  .attr("y1", d => y(d)).attr("y2", d => y(d))
  .attr("stroke", "#222").attr("stroke-width", 1);
svg.append("path").attr("d", `M${plot.left},${plot.top}H${plot.right}V${plot.bottom}`)
  .attr("fill","none").attr("stroke","#111").attr("stroke-width",2);

const sym = {
  diamond: r => `M0,${-r}L${r},0L0,${r}L${-r},0Z`,
  square: s => `M${-s},${-s}h${2*s}v${2*s}h${-2*s}Z`,
  triangle: s => `M0,${-s}L${s},${s*0.85}L${-s},${s*0.85}Z`,
  cross: s => `M${-s},${-s}L${s},${s}M${-s},${s}L${s},${-s}`
};
const seriesDefs = [
  {data: expand(eurefMM, eurefStartDay, [0,8,16]).concat(expand(eurefExtraMM, eurefStartDay, [4,12])), shape: sym.diamond(5.7), color: seriesColors[0], fill: true},
  {data: expand(jujoMM, agnesStartDay, [0,6,12,18]), shape: sym.square(3.6), color: seriesColors[1], fill: true},
  {data: expand(fhbbMM, agnesStartDay, [0,6,12,18]).concat(expand(fhbbExtraMM, agnesStartDay, [3,15])), shape: sym.triangle(5.8), color: seriesColors[2], fill: true},
  {data: expand(ethzMM, agnesStartDay, [0,6,12,18]).concat(expand(ethzExtraMM, agnesStartDay, [3,15])), shape: sym.cross(4.9), color: seriesColors[3], fill: false},
  {data: expand(zimmAgnesMM, agnesStartDay, [0,6,12,18]).concat(expand(zimmAgnesExtraMM, agnesStartDay, [3,15])), shape: sym.square(3.8), color: seriesColors[4], fill: true}
];
seriesDefs.forEach(s => {
  s.data.sort((a, b) => a.date - b.date);
  svg.append("g").selectAll("path").data(s.data).join("path")
    .attr("transform", d => `translate(${x(d.date).toFixed(2)},${y(d.value).toFixed(2)})`)
    .attr("d", s.shape)
    .attr("fill", s.fill ? s.color : "none")
    .attr("stroke", s.color)
    .attr("stroke-width", s.fill ? 0.5 : 1.8);
});

// trend lines
const line = d3.line().x(d => x(dayDate(d[0]))).y(d => y(mm(d[1])));
[[eurefTrend,3.2],[fhbbTrend,4.4],[ethzTrend,4.4],[zimmAgnesTrend,3.4]].forEach(([t,w]) => {
  svg.append("path").datum(t).attr("d", line).attr("fill","none")
    .attr("stroke","#000").attr("stroke-width",w).attr("stroke-linejoin","round").attr("stroke-linecap","round");
});

// axes
const xAxis = svg.append("g").attr("transform", `translate(0,${plot.bottom})`)
  .call(d3.axisBottom(x).tickValues(tickDates).tickFormat(fmtD).tickSize(8).tickPadding(23).tickSizeOuter(0));
const yAxis = svg.append("g").attr("transform", `translate(${plot.left},0)`)
  .call(d3.axisLeft(y).tickValues(yTickValues).tickFormat(d => d === 2 ? "2" : d3.format(".1f")(d)).tickSize(8).tickPadding(12).tickSizeOuter(0));
[xAxis, yAxis].forEach(g => {
  g.attr("font-family", "Liberation Sans, Arial, sans-serif").attr("font-size", 24);
  g.selectAll("text").attr("fill", "#000");
  g.selectAll("line").attr("stroke", "#000").attr("stroke-width", 1.2);
  g.select(".domain").attr("stroke", "#111").attr("stroke-width", 2);
});

// axis titles
svg.append("text").attr("x", (plot.left+plot.right)/2).attr("y", 1103)
  .attr("text-anchor","middle").attr("font-weight","bold").attr("font-size",25).text("Zeit");
svg.append("text").attr("transform", `translate(33,${(plot.top+plot.bottom)/2}) rotate(-90)`)
  .attr("text-anchor","middle").attr("font-weight","bold").attr("font-size",25).text("Zenith Delay [m]");

// legend
const lg = svg.append("g");
lg.append("rect").attr("x",132).attr("y",69).attr("width",254).attr("height",253)
  .attr("fill","#fff").attr("stroke","#111").attr("stroke-width",1.5);
const legendShapes = [sym.diamond(4.5), sym.square(3.8), sym.triangle(4.8), sym.cross(4), sym.square(3)];
seriesNames.forEach((n, i) => {
  const cy = 97 + i*50.3;
  lg.append("path").attr("transform", `translate(157,${cy})`).attr("d", legendShapes[i])
    .attr("fill", i === 3 ? "none" : seriesColors[i]).attr("stroke", seriesColors[i]).attr("stroke-width", i === 3 ? 1.5 : 0.5);
  lg.append("text").attr("x",176).attr("y",cy).attr("dy","0.36em").attr("font-size",35).attr("fill","#000").text(n);
});
</script></body></html>
